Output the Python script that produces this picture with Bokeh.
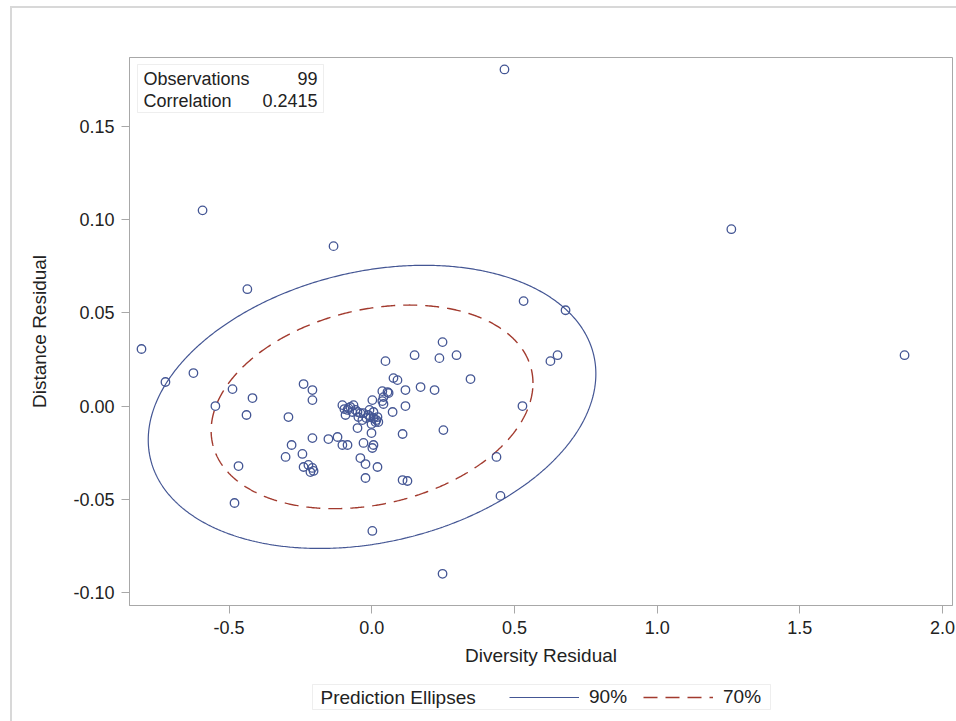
import numpy as np
from bokeh.plotting import figure
from bokeh.layouts import column
from bokeh.models import (Range1d, FixedTicker, PrintfTickFormatter, Legend, LegendItem,
                          BoxAnnotation, Label)
from bokeh.embed import file_html
from bokeh.resources import INLINE

# ---------------- data ----------------
diversity_residual = [
    0.465, -0.593, -0.134, -0.436, 1.260, 1.867, -0.807, -0.723, -0.625, -0.548,
    -0.488, -0.418, -0.439, -0.467, -0.481, 0.532, 0.679, 0.651, 0.626, 0.528,
    0.437, 0.451, 0.248, 0.002,
    0.248, 0.297, 0.237, 0.150, 0.048, 0.346, 0.220, 0.171, 0.251, 0.108,
    0.108, 0.125, 0.118, 0.118, 0.076, 0.090, 0.073,
    -0.239, -0.208, -0.208, -0.292, -0.208, -0.152, -0.120, -0.103, -0.085,
    -0.281, -0.302, -0.243, -0.239, -0.222, -0.208, -0.204, -0.215,
    -0.050, -0.001, -0.029, 0.006, 0.002, -0.040, -0.022, 0.020, -0.022,
    0.037, 0.055, 0.059, 0.041, 0.002, 0.037, 0.041,
    -0.103, -0.075, -0.064, -0.085, -0.092, -0.068, -0.050, -0.040, -0.047,
    -0.029, -0.012, -0.005, 0.006, 0.020, 0.013, 0.023, -0.033, 0.006,
    -0.057, -0.019, -0.001, -0.082, 0.016, -0.096, -0.008,
]
distance_residual = [
    0.1806, 0.1050, 0.0858, 0.0627, 0.0949, 0.0273, 0.0306, 0.0129, 0.0177, 0.0000,
    0.0091, 0.0043, -0.0048, -0.0322, -0.0520, 0.0563, 0.0514, 0.0273, 0.0241, 0.0000,
    -0.0273, -0.0482, -0.0900, -0.0670,
    0.0343, 0.0273, 0.0257, 0.0273, 0.0241, 0.0145, 0.0086, 0.0102, -0.0129, -0.0150,
    -0.0397, -0.0402, 0.0086, 0.0000, 0.0150, 0.0139, -0.0032,
    0.0118, 0.0086, 0.0032, -0.0059, -0.0172, -0.0177, -0.0166, -0.0209, -0.0209,
    -0.0209, -0.0273, -0.0257, -0.0327, -0.0316, -0.0332, -0.0348, -0.0354,
    -0.0118, -0.0145, -0.0198, -0.0209, -0.0225, -0.0279, -0.0311, -0.0327, -0.0386,
    0.0080, 0.0075, 0.0070, 0.0048, 0.0032, 0.0027, 0.0011,
    0.0005, -0.0005, 0.0005, -0.0021, -0.0048, -0.0032, -0.0032, -0.0038, -0.0059,
    -0.0038, -0.0048, -0.0059, -0.0064, -0.0059, -0.0086, -0.0086, -0.0075, -0.0032,
    -0.0021, -0.0064, -0.0096, -0.0011, -0.0075, -0.0016, -0.0021,
]
x_ticks = [-0.5, 0.0, 0.5, 1.0, 1.5, 2.0]
y_ticks = [-0.10, -0.05, 0.0, 0.05, 0.10, 0.15]
ellipse_levels = [0.90, 0.70]
ellipse_labels = ["90%", "70%"]
legend_title = "Prediction Ellipses"
stats_names = ["Observations", "Correlation"]
stats_values = [str(len(diversity_residual)), "0.2415"]

# ---------------- styling ----------------
FONT = "Liberation Sans"
TEXT = "#222222"
GRAY = "#a8a8a8"
LIGHT = "#c8c8c8"
BLUE = "#445694"
RED = "#A23A2E"
STYLES = [dict(line_color=BLUE, line_width=1.2),
          dict(line_color=RED, line_width=1.4, line_dash="14 8")]

# ---------------- prediction ellipses from the data ----------------
X = np.asarray(diversity_residual)
Y = np.asarray(distance_residual)
n = len(X)
mean = np.array([X.mean(), Y.mean()])
cov = np.cov(np.vstack([X, Y]))
Lc = np.linalg.cholesky(cov)
t = np.linspace(0, 2 * np.pi, 721)
unit = np.vstack([np.cos(t), np.sin(t)])
nu = n - 2


def ellipse(level):
    F = nu / 2.0 * ((1.0 - level) ** (-2.0 / nu) - 1.0)   # F(2, n-2) quantile
    c = 2.0 * (n - 1) * (n + 1) / (n * (n - 2)) * F
    pts = mean[:, None] + np.sqrt(c) * (Lc @ unit)
    return pts[0], pts[1]


ellipses = [ellipse(lv) for lv in ellipse_levels]

# ---------------- main figure ----------------
W = 956
H_MAIN, H_LEG = 676, 45
FRAME_L, FRAME_T, FRAME_R, FRAME_B = 129, 57, 952, 605
p = figure(width=W, height=H_MAIN, output_backend="svg", toolbar_location=None,
           x_range=Range1d(-0.849, 2.035), y_range=Range1d(-0.107, 0.187),
           min_border_left=FRAME_L, min_border_right=W - FRAME_R,
           min_border_top=FRAME_T, min_border_bottom=H_MAIN - FRAME_B)
p.background_fill_color = "white"
p.border_fill_color = "white"
p.grid.visible = False
p.outline_line_color = GRAY
p.outline_line_width = 1

for (ex, ey), st in zip(ellipses, STYLES):
    p.line(ex, ey, **st)

p.scatter(diversity_residual, distance_residual, marker="circle", size=8.5,
          fill_color=None, line_color=BLUE, line_width=1.3)

p.xaxis.ticker = FixedTicker(ticks=x_ticks)
p.yaxis.ticker = FixedTicker(ticks=y_ticks)
p.xaxis.formatter = PrintfTickFormatter(format="%.1f")
p.yaxis.formatter = PrintfTickFormatter(format="%.2f")
p.xaxis.axis_label = "Diversity Residual"
p.yaxis.axis_label = "Distance Residual"
for ax in (p.xaxis[0], p.yaxis[0]):
    ax.axis_line_color = GRAY
    ax.major_tick_line_color = GRAY
    ax.major_tick_out = 8
    ax.major_tick_in = 0
    ax.minor_tick_line_color = None
    ax.major_label_text_font = FONT
    ax.major_label_text_font_size = "18px"
    ax.major_label_text_color = TEXT
    ax.major_label_standoff = 7
    ax.axis_label_text_font = FONT
    ax.axis_label_text_font_size = "19px"
    ax.axis_label_text_font_style = "normal"
    ax.axis_label_text_color = TEXT
p.xaxis[0].axis_label_standoff = 8
p.yaxis[0].axis_label_standoff = 20


def sx(px):  # page x -> frame-relative screen x
    return px - FRAME_L


def sy(py):  # page y -> frame-relative screen y (upwards)
    return FRAME_B - py


# statistics inset
p.add_layout(BoxAnnotation(left=sx(137), right=sx(323), top=sy(64), bottom=sy(112),
                           left_units="screen", right_units="screen",
                           top_units="screen", bottom_units="screen",
                           fill_color="white", fill_alpha=1.0,
                           line_color=LIGHT, line_width=1))
for name, val, yy in zip(stats_names, stats_values, [78, 100]):
    p.add_layout(Label(x=sx(143), y=sy(yy), x_units="screen", y_units="screen", text=name,
                       text_font=FONT, text_font_size="18px", text_color=TEXT,
                       text_baseline="middle", text_align="left"))
    p.add_layout(Label(x=sx(317), y=sy(yy), x_units="screen", y_units="screen", text=val,
                       text_font=FONT, text_font_size="18px", text_color=TEXT,
                       text_baseline="middle", text_align="right"))

# ---------------- legend strip (second figure under the plot) ----------------
# Same frame columns as the main plot; its ranges keep the proxy lines off-view.
lg = figure(width=W, height=H_LEG, output_backend="svg", toolbar_location=None,
            x_axis_type=None, y_axis_type=None,
            min_border_left=FRAME_L, min_border_right=W - FRAME_R,
            min_border_top=0, min_border_bottom=0,
            x_range=Range1d(10, 11), y_range=Range1d(10, 11))
lg.outline_line_color = None
lg.grid.visible = False
lg.background_fill_color = "white"
lg.border_fill_color = "white"
proxies = [lg.line(ex, ey, **st) for (ex, ey), st in zip(ellipses, STYLES)]

TOP0 = H_MAIN  # page y of the strip's top


def ly(py):
    return H_LEG - (py - TOP0)


lg.add_layout(BoxAnnotation(left=sx(312), right=sx(770), top=ly(684), bottom=ly(709),
                            left_units="screen", right_units="screen",
                            top_units="screen", bottom_units="screen",
                            fill_color="white", fill_alpha=1.0,
                            line_color=LIGHT, line_width=1))
lg.add_layout(Label(x=sx(320), y=ly(696.5), x_units="screen", y_units="screen",
                    text=legend_title, text_font=FONT, text_font_size="19px",
                    text_color=TEXT, text_baseline="middle", text_align="left"))
legend = Legend(items=[LegendItem(label=lab, renderers=[r])
                       for lab, r in zip(ellipse_labels, proxies)],
                orientation="horizontal", location=(sx(509), ly(707.5)))
legend.label_text_font = FONT
legend.label_text_font_size = "19px"
legend.label_text_color = TEXT
legend.label_height = 20
legend.glyph_width = 70
legend.glyph_height = 20
legend.label_standoff = 10
legend.spacing = 16
legend.padding = 0
legend.margin = 0
legend.border_line_color = None
legend.background_fill_alpha = 0
lg.add_layout(legend, "center")

layout = column(p, lg, spacing=0)

html = file_html(layout, INLINE)
frame_div = ('<div style="position:fixed;left:10px;top:6px;width:5000px;height:5000px;'
             'border-left:2px solid #d8d8d8;border-top:2px solid #d8d8d8;'
             'pointer-events:none;z-index:10"></div>')
i = html.rfind("</body>")
if i >= 0:
    html = html[:i] + frame_div + html[i:]
open("out.html", "w").write(html)
